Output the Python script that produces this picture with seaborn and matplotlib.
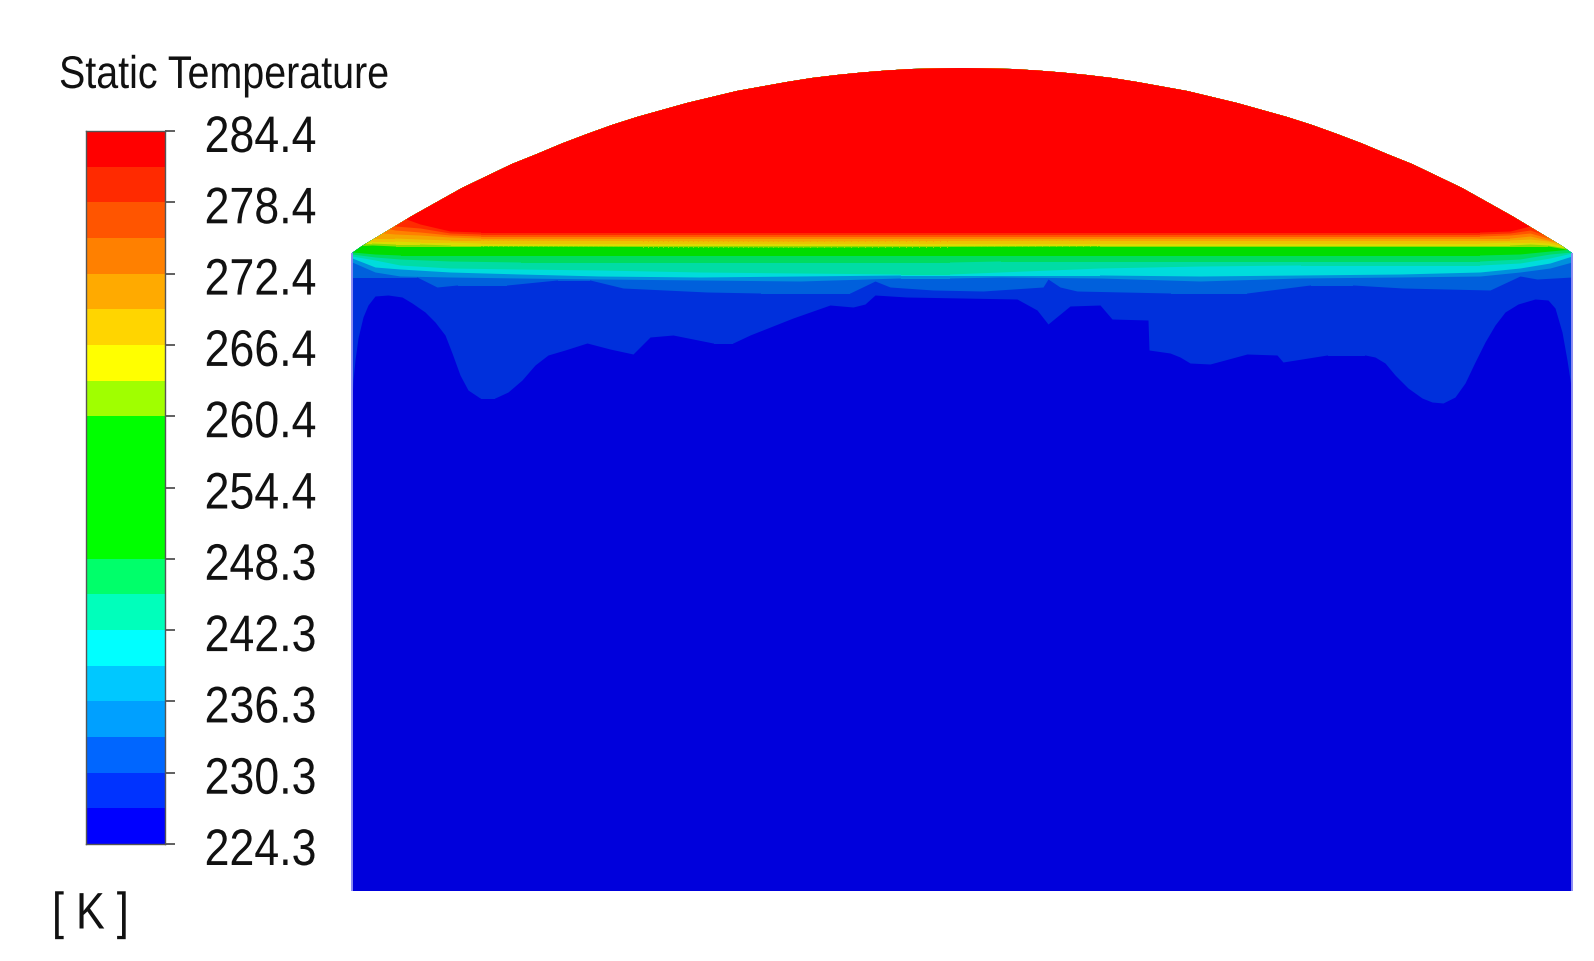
# plot.py - Static temperature contours in a domed tank
import numpy as np
import pandas as pd
import seaborn as sns
import matplotlib.pyplot as plt
from matplotlib.colors import ListedColormap
from matplotlib.patches import Polygon
from matplotlib.patheffects import AbstractPathEffect
from matplotlib.transforms import Affine2D

# --- colour bar (top to bottom) ---
tick_labels = ["284.4", "278.4", "272.4", "266.4", "260.4", "254.4",
               "248.3", "242.3", "236.3", "230.3", "224.3"]
band_temps = [282.9, 279.9, 276.9, 273.9, 270.9, 267.9, 264.9, 261.9, 258.9, 255.9,
              252.9, 249.8, 246.8, 243.8, 240.8, 237.8, 234.8, 231.8, 228.8, 225.8]
band_colors = ["#ff0000", "#ff2a00", "#ff5500", "#ff8000", "#ffaa00", "#ffd500", "#ffff00",
               "#a0ff00", "#00ff00", "#00ff00", "#00ff00", "#00ff00", "#00ff6a", "#00ffbb",
               "#00ffff", "#00c8ff", "#00a0ff", "#0066ff", "#0033ff", "#0000ff"]

# --- tank outline ---
dome_x = [352, 362, 387, 412, 437, 462, 487, 512, 537, 562, 587, 612, 637, 662, 687, 712, 737,
          762, 787, 812, 837, 862, 887, 912, 937, 962, 987, 1012, 1037, 1062, 1087, 1112, 1137,
          1162, 1187, 1212, 1237, 1262, 1287, 1312, 1337, 1362, 1387, 1412, 1437, 1462, 1487,
          1512, 1537, 1562, 1572]
dome_y = [253, 246, 231, 216, 202, 188, 176, 164, 154, 143.5, 134, 125, 117, 110, 103, 97, 91,
          86.5, 82, 78, 75, 72.5, 70.5, 69, 68.5, 68, 68.5, 69, 70.5, 72.5, 75, 78, 82,
          86.5, 91, 97, 103, 110, 117, 125, 134, 143.5, 154, 164, 176, 188, 202,
          216, 231, 246, 253]

# --- isotherms near the interface, same x for all ---
upper_x = [352, 372, 395, 420, 450, 480, 800, 1100, 1480, 1510, 1530, 1548, 1572]
iso_red = [200, 205, 215, 224, 231, 232, 232, 232, 232, 231, 226, 232, 240]
iso_2a = [205, 215, 226, 228, 233, 234, 234, 234, 234, 233, 230, 236, 243]
iso_55 = [215, 225, 230, 232, 235, 236, 236, 236, 236, 235, 233, 238, 245]
iso_80 = [225, 232, 234, 235, 237, 238, 238, 238, 238, 238, 236, 240, 246]
iso_aa = [235, 238, 238, 239, 240, 240, 241, 240, 240, 240, 239, 241, 247]
iso_d5 = [240, 241, 241, 242, 242, 243, 243, 243, 243, 242, 242, 243, 248]
iso_yl = [243, 243, 244, 244, 245, 245, 245, 245, 245, 245, 244, 245, 249]
iso_lm = [246, 245, 246, 246, 246, 246, 247, 246, 246, 246, 246, 246, 250]

mid_x = [352, 375, 400, 450, 520, 600, 700, 800, 900, 950, 1000, 1100, 1200, 1300,
         1400, 1480, 1520, 1550, 1572]
iso_gr = [252, 254, 255, 255, 255, 255, 255, 255, 255, 255, 255, 255, 255, 255,
          255, 255, 254, 251, 249]
iso_6a = [254, 257, 259, 261, 262, 262, 262, 262, 262, 262, 261, 261, 261, 261,
          261, 261, 259, 254, 252]
iso_bb = [256, 260, 265, 268, 269, 270, 272, 273, 274, 274, 272, 268, 266, 265,
          265, 265, 263, 258, 253]
iso_cy = [258, 267, 269, 272, 274, 276, 277, 276, 275, 275, 275, 275, 276, 275,
          274, 272, 268, 263, 256]
iso_a0 = [262, 272, 276, 277, 278, 279, 280, 281, 278, 278, 277, 278, 281, 278,
          277, 276, 272, 268, 262]

# --- wavy isotherms further down ---
iso_60_x = [352, 417, 437, 457, 507, 557, 590, 623, 707, 760, 850, 875, 890, 933, 983,
            1043, 1048, 1060, 1077, 1170, 1247, 1310, 1353, 1403, 1490, 1520, 1537, 1572]
iso_60_y = [277, 277, 287, 285, 285, 280, 280, 288, 292, 293, 293, 281, 287, 290, 291,
            287, 279, 287, 291, 293, 293, 285, 285, 288, 290, 276, 279, 277]
iso_30_x = [352, 353, 355, 358, 363, 368, 375, 388, 402, 412, 425, 435, 445, 452, 460, 468,
            480, 495, 508, 522, 535, 548, 565, 587, 610, 633, 650, 673, 713, 733, 750, 793,
            830, 853, 865, 875, 907, 1017, 1037, 1048, 1070, 1100, 1112, 1148, 1149, 1170,
            1180, 1190, 1210, 1247, 1277, 1283, 1327, 1365, 1375, 1385, 1395, 1408, 1422,
            1432, 1443, 1455, 1465, 1475, 1485, 1495, 1505, 1518, 1535, 1548, 1555, 1562,
            1567, 1572]
iso_30_y = [400, 380, 360, 338, 317, 305, 296, 295, 297, 303, 312, 322, 335, 353, 375, 390,
            398, 398, 392, 380, 365, 355, 350, 343, 349, 354, 337, 335, 343, 343, 335, 318,
            305, 307, 304, 295, 297, 299, 310, 324, 306, 305, 319, 320, 350, 353,
            357, 363, 364, 354, 355, 362, 355, 355, 357, 363, 375, 388, 398,
            402, 403, 397, 383, 362, 342, 325, 312, 304, 299, 300, 308, 332,
            360, 393]

# lower edge of each colour, hottest first; the field is shaded darker than the bar
field_layers = [
    (upper_x, iso_red, "#ff0000"),
    (upper_x, iso_2a, "#ff2a00"),
    (upper_x, iso_55, "#ff5500"),
    (upper_x, iso_80, "#ff8000"),
    (upper_x, iso_aa, "#f5a500"),
    (upper_x, iso_d5, "#ebc400"),
    (upper_x, iso_yl, "#dcdc00"),
    (upper_x, iso_lm, "#90dc00"),
    (mid_x, iso_gr, "#00dc00"),
    (mid_x, iso_6a, "#00dc60"),
    (mid_x, iso_bb, "#00dca5"),
    (mid_x, iso_cy, "#00dcdc"),
    (mid_x, iso_a0, "#0090dc"),
    (iso_60_x, iso_60_y, "#0060dc"),
    (iso_30_x, iso_30_y, "#0030dc"),
]
base_color = "#0000dc"


class Squeeze(AbstractPathEffect):
    # the original font is narrower than anything installed, so squash the glyphs sideways
    def __init__(self, sx, dy=0):
        super().__init__()
        self.sx = sx
        self.dy = dy

    def draw_path(self, renderer, gc, tpath, affine, rgbFace=None):
        squashed = Affine2D().scale(self.sx, 1) + affine + Affine2D().translate(0, self.dy)
        renderer.draw_path(gc, tpath, squashed, rgbFace)


sns.set_theme(style="white")
plt.rcParams["font.family"] = ["Liberation Sans", "DejaVu Sans"]

W, H = 1594, 961
fig = plt.figure(figsize=(W / 100, H / 100), dpi=100)

# temperature field
ax = fig.add_axes([352 / W, 1 - 891 / H, 1220 / W, 823 / H])
ax.set_xlim(352, 1572)
ax.set_ylim(891, 68)
ax.axis("off")

outline = list(zip(dome_x, dome_y)) + [(1572, 891), (352, 891)]
clip = Polygon(outline, closed=True, transform=ax.transData)
ax.add_patch(Polygon(outline, closed=True, facecolor=base_color, edgecolor="none"))
for xs, ys, color in reversed(field_layers):
    band = ax.fill_between(xs, ys, 0, color=color, linewidth=0)
    band.set_clip_path(clip)

# pale fringe down both walls
ax.vlines([dome_x[0], dome_x[-1]], dome_y[0], 891, color="#8c8cf2", linewidth=1.4, clip_on=False)

# colour bar
cax = fig.add_axes([86 / W, 1 - 844 / H, 79 / W, 713 / H])
bar = pd.DataFrame({"T": band_temps})
sns.heatmap(bar, ax=cax, cmap=ListedColormap(band_colors[::-1]), vmin=224.3, vmax=284.4,
            cbar=False, xticklabels=False, linewidths=0)
cax.yaxis.tick_right()
cax.set_yticks(np.arange(0, 21, 2))
cax.set_yticklabels(tick_labels, rotation=0, fontsize=37, color="#111111")
cax.tick_params(axis="y", length=7.5, width=1.2, color="#444444", pad=21, right=True, left=False)
for label in cax.get_yticklabels():
    label.set_path_effects([Squeeze(0.87, -2)])
for side in cax.spines.values():
    side.set_visible(True)
    side.set_color("#555555")
    side.set_linewidth(1)

title = fig.text(59 / W, 1 - 76 / H, "Static Temperature", fontsize=33, color="#111111", va="center")
title.set_path_effects([Squeeze(0.86)])
unit = fig.text(52 / W, 1 - 915 / H, "[ K ]", fontsize=37, color="#111111", va="center")
unit.set_path_effects([Squeeze(0.84)])

fig.savefig("out.png", dpi=100)
plt.close(fig)
